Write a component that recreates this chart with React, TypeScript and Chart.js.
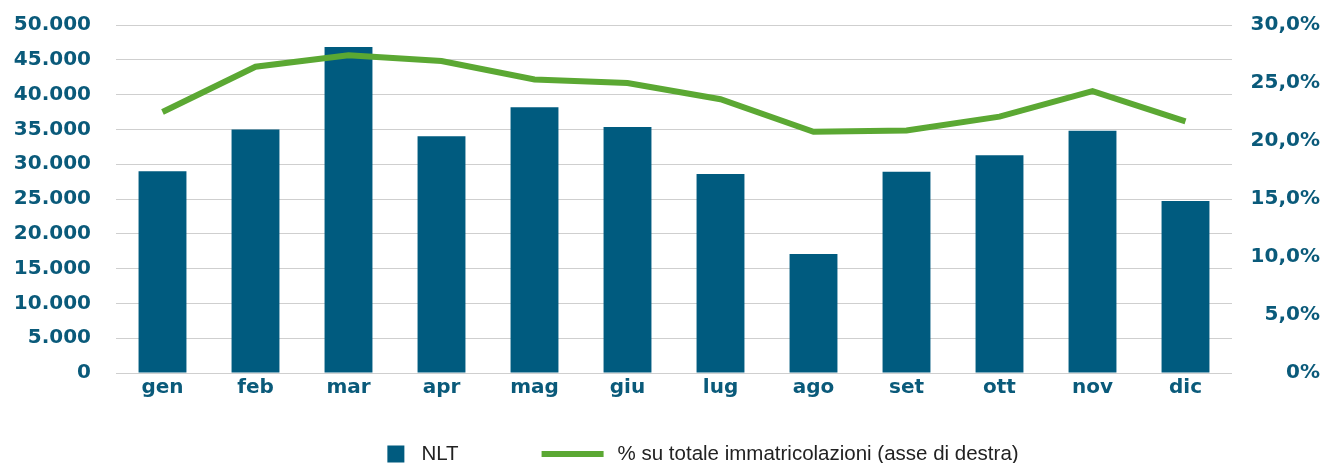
import React, { useEffect, useRef } from 'react';
import { Chart, registerables } from 'chart.js';

Chart.register(...registerables);

const categories = ['gen', 'feb', 'mar', 'apr', 'mag', 'giu', 'lug', 'ago', 'set', 'ott', 'nov', 'dic'];
const nltValues = [29000, 35000, 46850, 34000, 38200, 35350, 28600, 17100, 28900, 31300, 34800, 24700];
const sharePercent = [22.5, 26.4, 27.4, 26.9, 25.3, 25.0, 23.6, 20.8, 20.9, 22.1, 24.3, 21.7];
const leftTickLabels = ['0', '5.000', '10.000', '15.000', '20.000', '25.000', '30.000', '35.000', '40.000', '45.000', '50.000'];
const rightTickLabels = ['0%', '5,0%', '10,0%', '15,0%', '20,0%', '25,0%', '30,0%'];
const seriesNames = ['NLT', '% su totale immatricolazioni (asse di destra)'];

const BLUE = '#005B7F';
const GREEN = '#5BA833';
const TICK_COLOR = '#0A5A7A';
const GRID = '#CFCFCF';

const legendPlugin = {
  id: 'customLegend',
  afterDraw(chart: any) {
    const ctx = chart.ctx as CanvasRenderingContext2D;
    const ds = chart.data.datasets;
    ctx.save();
    ctx.font = '20.5px "Liberation Sans", Arial, sans-serif';
    ctx.textBaseline = 'middle';
    const t1 = ds[0].label as string;
    const t2 = ds[1].label as string;
    const w1 = ctx.measureText(t1).width;
    const w2 = ctx.measureText(t2).width;
    const box = 17, gap1 = 17, gapMid = 83, lineW = 62, gap2 = 14;
    const total = box + gap1 + w1 + gapMid + lineW + gap2 + w2;
    const cy = 454;
    let x = 703 - total / 2;
    ctx.fillStyle = ds[0].backgroundColor;
    ctx.fillRect(x, cy - box / 2, box, box);
    x += box + gap1;
    ctx.fillStyle = '#222222';
    ctx.fillText(t1, x, cy);
    x += w1 + gapMid;
    ctx.strokeStyle = ds[1].borderColor;
    ctx.lineWidth = 6;
    ctx.beginPath();
    ctx.moveTo(x, cy);
    ctx.lineTo(x + lineW, cy);
    ctx.stroke();
    x += lineW + gap2;
    ctx.fillText(t2, x, cy);
    ctx.restore();
  },
};

export default function App() {
  const canvasRef = useRef<HTMLCanvasElement | null>(null);

  useEffect(() => {
    if (!canvasRef.current) return;
    const tickFont = { family: '"DejaVu Sans", sans-serif', size: 20, weight: 'bold' as const };
    const chart = new Chart(canvasRef.current, {
      type: 'bar',
      data: {
        labels: categories,
        datasets: [
          {
            type: 'bar',
            label: seriesNames[0],
            data: nltValues,
            backgroundColor: BLUE,
            borderWidth: 0,
            yAxisID: 'y',
            categoryPercentage: 1,
            barPercentage: 0.515,
            order: 2,
          },
          {
            type: 'line',
            label: seriesNames[1],
            data: sharePercent.map((v) => v / 100),
            borderColor: GREEN,
            backgroundColor: GREEN,
            borderWidth: 6,
            pointRadius: 0,
            tension: 0,
            yAxisID: 'y1',
            order: 1,
          } as any,
        ],
      },
      options: {
        responsive: true,
        maintainAspectRatio: false,
        animation: false,
        layout: { padding: { top: 25, right: 5, left: 0, bottom: 0 } },
        plugins: {
          legend: { display: false },
          tooltip: { enabled: false },
        },
        scales: {
          x: {
            grid: { display: false, drawTicks: false },
            border: { display: false },
            ticks: { color: TICK_COLOR, font: tickFont, padding: 3 },
            afterFit(scale: any) {
              scale.height = 90;
            },
          },
          y: {
            position: 'left',
            min: 0,
            max: 50000,
            grid: { color: GRID, lineWidth: 1, drawTicks: false },
            border: { display: false },
            ticks: {
              stepSize: 5000,
              color: TICK_COLOR,
              font: tickFont,
              padding: 25,
              callback: (_v: any, i: number) => leftTickLabels[i],
            },
            afterFit(scale: any) {
              scale.width = 116;
              scale.paddingTop = 12;
              scale.paddingBottom = 12;
            },
          },
          y1: {
            position: 'right',
            min: 0,
            max: 0.3,
            grid: { display: false, drawTicks: false },
            border: { display: false },
            ticks: {
              stepSize: 0.05,
              color: TICK_COLOR,
              font: tickFont,
              crossAlign: 'far',
              callback: (_v: any, i: number) => rightTickLabels[i],
            },
            afterFit(scale: any) {
              scale.width = 88;
              scale.paddingTop = 12;
              scale.paddingBottom = 12;
            },
          },
        },
      },
      plugins: [legendPlugin],
    });
    return () => chart.destroy();
  }, []);

  return (
    <div style={{ position: 'absolute', left: 0, top: 0, width: 1325, height: 463, background: '#fff' }}>
      <canvas ref={canvasRef} />
    </div>
  );
}
